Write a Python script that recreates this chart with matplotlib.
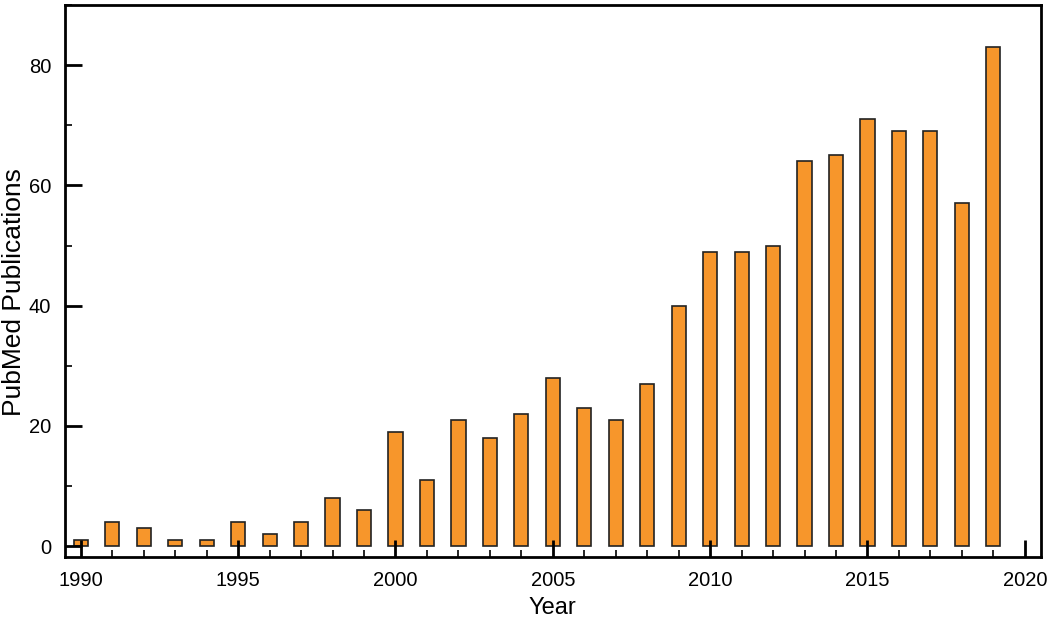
import matplotlib
matplotlib.use("Agg")
import matplotlib.pyplot as plt
from matplotlib.ticker import MultipleLocator

years = list(range(1990, 2020))
counts = [1, 4, 3, 1, 1, 4, 2, 4, 8, 6, 19, 11, 21, 18, 22, 28, 23, 21, 27, 40,
          49, 49, 50, 64, 65, 71, 69, 69, 57, 83]

plt.rcParams['font.family'] = ['Liberation Sans', 'DejaVu Sans']

fig = plt.figure(figsize=(10.5, 6.19), dpi=100)
ax = fig.add_axes([0.062, 0.100, 0.929, 0.892])
ax.bar(years, counts, width=0.45, color='#F7962B', edgecolor='#222222', linewidth=1.2)
ax.set_xlim(1989.5, 2020.5)
ax.set_ylim(-1.8, 90)
ax.xaxis.set_major_locator(MultipleLocator(5))
ax.xaxis.set_minor_locator(MultipleLocator(1))
ax.yaxis.set_major_locator(MultipleLocator(20))
ax.yaxis.set_minor_locator(MultipleLocator(10))
ax.tick_params(which='major', direction='in', length=12, width=2, labelsize=14.5, pad=10)
ax.tick_params(which='minor', direction='in', length=5, width=1.2)
for s in ax.spines.values():
    s.set_linewidth(2)
ax.set_xlabel('Year', fontsize=17, labelpad=5)
ax.set_ylabel('PubMed Publications', fontsize=19, va='center')
ax.yaxis.set_label_coords(-0.052, 0.48)
fig.savefig('out.png', dpi=100)
